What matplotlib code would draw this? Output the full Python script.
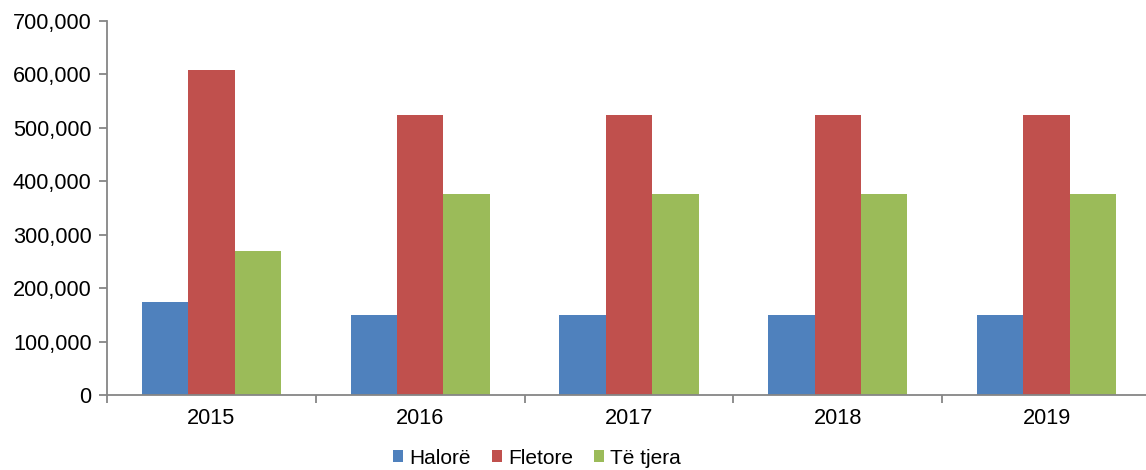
import numpy as np
import matplotlib.pyplot as plt
from matplotlib.ticker import FuncFormatter, FixedLocator

plt.rcParams['font.family'] = ['Liberation Sans', 'DejaVu Sans']

years = ['2015', '2016', '2017', '2018', '2019']
halore = [174000, 150000, 150000, 150000, 150000]
fletore = [608000, 524000, 524000, 524000, 524000]
te_tjera = [269000, 377000, 377000, 377000, 377000]

series = [('Halorë', halore, '#4f81bd'),
          ('Fletore', fletore, '#c0504d'),
          ('Të tjera', te_tjera, '#9bbb59')]

fig = plt.figure(figsize=(11.46, 4.70), dpi=100)
# the plot area runs slightly past the right edge of the figure in the original
ax = fig.add_axes([107 / 1146, 75 / 470, 1044 / 1146, 374 / 470])

x = np.arange(len(years))
w = 0.222
for i, (name, vals, col) in enumerate(series):
    ax.bar(x + (i - 1) * w, vals, w, color=col, label=name, zorder=2)

ax.set_xlim(-0.5, len(years) - 0.5)
ax.set_ylim(0, 700000)
ax.set_yticks(np.arange(0, 700001, 100000))
ax.yaxis.set_major_formatter(FuncFormatter(lambda v, p: f'{int(v):,}'))
ax.set_xticks(x)
ax.set_xticklabels(years)
ax.xaxis.set_minor_locator(FixedLocator(np.arange(-0.5, len(years), 1.0)))

for s in ['top', 'right']:
    ax.spines[s].set_visible(False)
for s in ['left', 'bottom']:
    ax.spines[s].set_color('#868686')
    ax.spines[s].set_linewidth(1.3)

ax.tick_params(axis='y', labelsize=15.7, color='#868686', length=6, width=1.3, pad=5)
ax.tick_params(axis='x', which='major', length=0, labelsize=15.7, pad=9)
ax.tick_params(axis='x', which='minor', length=6, width=1.3, color='#868686')

fig.legend(loc='center', bbox_to_anchor=(537 / 1146, 1 - 458 / 470), ncol=3, frameon=False,
           fontsize=15, handlelength=0.48, handleheight=0.48, handletextpad=0.3,
           columnspacing=1.0, borderaxespad=0)

fig.savefig('out.png', dpi=100)
